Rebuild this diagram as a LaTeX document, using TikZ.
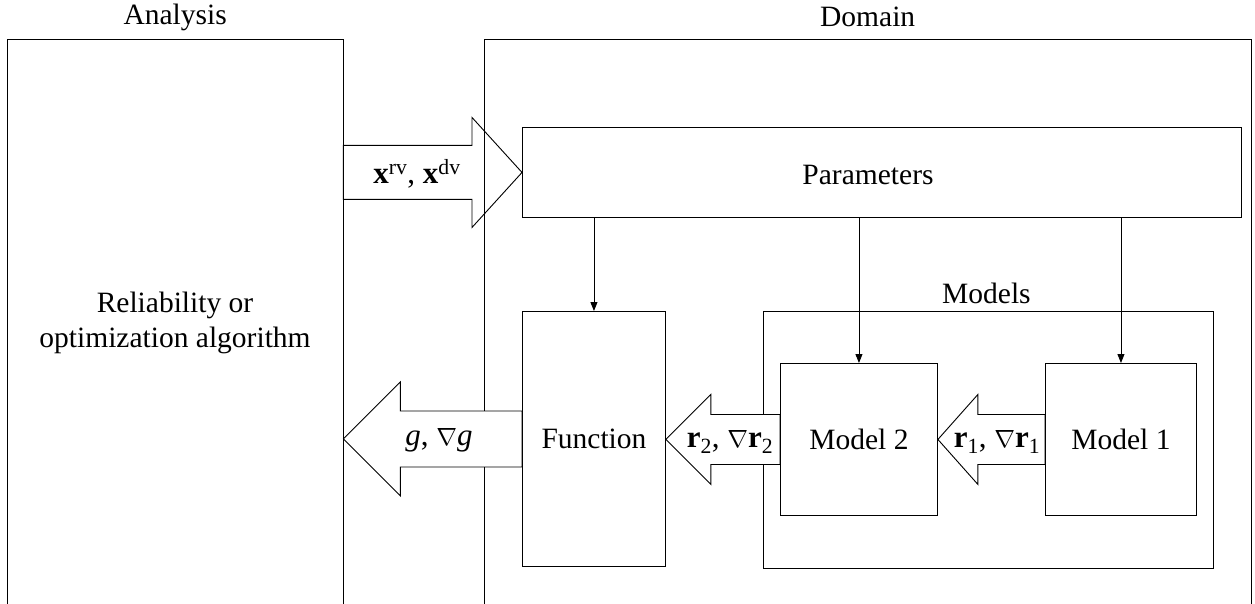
\documentclass[tikz,border=0pt]{standalone}
\usepackage{fontspec}
\setmainfont{Liberation Serif}
\usetikzlibrary{calc,arrows.meta}

% Block arrow: #1 tail, #2 tip, #3 x offset from tip to head base,
% #4 shaft half height, #5 head half height
\newcommand\blockarrow[5]{%
  \fill[white] ($(#1)+(0,-#4)$) rectangle ($(#2)+(#3,#4)$);
  \draw[blk] ($(#1)+(0,-#4)$) -- ($(#2)+(#3,-#4)$) -- ($(#2)+(#3,-#5)$)
    -- (#2) -- ($(#2)+(#3,#5)$) -- ($(#2)+(#3,#4)$) -- ($(#1)+(0,#4)$) -- cycle;
}

\begin{document}
\begin{tikzpicture}[x=1pt,y=-1pt,
  box/.style={draw,line width=0.9pt,anchor=north west,inner sep=0pt},
  frame/.style={anchor=north west,inner sep=0pt},
  lbl/.style={font=\fontsize{29.5}{35}\selectfont,inner sep=0pt},
  albl/.style={font=\fontsize{31}{36}\selectfont,inner sep=0pt},
  feed/.style={line width=0.9pt,-{Triangle[length=9pt,width=7pt]}},
  blk/.style={line width=0.9pt,line join=miter}]
\useasboundingbox (0,0) rectangle (1255,604);

% open-bottom frames
\node[frame,minimum width=336pt,minimum height=565pt] (ana) at (7,39) {};
\node[frame,minimum width=767pt,minimum height=565pt] (dom) at (484,39) {};
\draw[line width=0.9pt] (ana.south west) -- (ana.north west) -- (ana.north east) -- (ana.south east);
\draw[line width=0.9pt] (dom.south west) -- (dom.north west) -- (dom.north east) -- (dom.south east);
\node[lbl] (analbl) at (ana.north |- 0,17) {Analysis};
\node[lbl] (domlbl) at (dom.north |- 0,17) {Domain};
\node[lbl,align=center] (alg) at (175,323) {Reliability or\\optimization algorithm};

% boxes of the domain
\node[box,minimum width=719pt,minimum height=90pt] (par) at (522,127) {};
\node[lbl] (parlbl) at (868,175) {Parameters};
\node[box,minimum width=143pt,minimum height=255pt,lbl] (fun) at (522,311) {Function};
\node[box,minimum width=450pt,minimum height=257pt] (mod) at (763,311) {};
\node[lbl,anchor=south] (modlbl) at ($(mod.north)+(-2,-7)$) {Models};
\node[box,minimum width=157pt,minimum height=152pt,lbl] (m2) at (780,363) {Model 2};
\node[box,minimum width=151pt,minimum height=152pt,lbl] (m1) at (1045,363) {Model 1};

% parameter feeds
\draw[feed] (par.south -| fun.north) -- (fun.north);
\draw[feed] (par.south -| m2.north) -- (m2.north);
\draw[feed] (par.south -| m1.north) -- (m1.north);

% data flow arrows
\coordinate (xtail) at (par.west -| ana.east);
\blockarrow{xtail}{par.west}{-50}{27}{55}
\node[albl] (xlbl) at (417,174) {\textbf{x}\textsuperscript{rv}, \textbf{x}\textsuperscript{dv}};

\coordinate (gtip) at (fun.west -| ana.east);
\blockarrow{fun.west}{gtip}{57}{28}{57}
\node[albl] (glbl) at (439,440) {\textit{g}, $\nabla$\textit{g}};

\coordinate (r2tip) at (m2.west -| fun.east);
\blockarrow{m2.west}{r2tip}{45}{25}{45}
\node[albl] (r2lbl) at (730,442) {\textbf{r}\textsubscript{2}, $\nabla$\textbf{r}\textsubscript{2}};

\coordinate (r1tip) at (m1.west -| m2.east);
\blockarrow{m1.west}{r1tip}{40}{25}{45}
\node[albl] (r1lbl) at (997,442) {\textbf{r}\textsubscript{1}, $\nabla$\textbf{r}\textsubscript{1}};
\end{tikzpicture}
\end{document}
